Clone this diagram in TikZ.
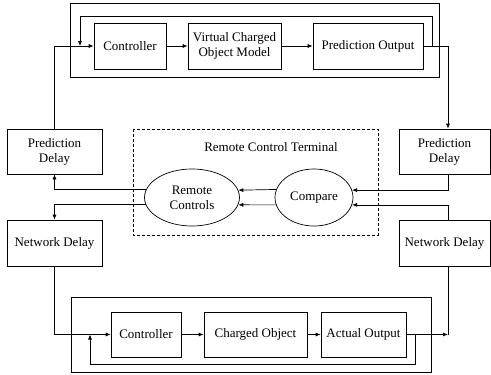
\documentclass[tikz,border=0pt]{standalone}
\usepackage{fontspec}
\setmainfont{Liberation Serif}
\usetikzlibrary{arrows.meta,shapes.geometric}

\begin{document}
\begin{tikzpicture}[x=1pt,y=-1pt,line width=0.7pt,>={Latex[length=5pt,width=4pt]},
  block/.style={draw,inner sep=0pt,align=center,font=\fontsize{13}{15}\selectfont},
  oval/.style={draw,ellipse,inner sep=0pt,align=center,font=\fontsize{13}{15}\selectfont}]
\useasboundingbox (0,0) rectangle (491,375);
% frames
\draw (70,3) rectangle (439,77);
\draw (71,297) rectangle (431,372);
\draw[densely dashed,line width=0.4pt] (133,129) rectangle (378,235);
% prediction loop
\node[block,minimum width=72pt,minimum height=46pt] (ctrlA) at (130,46) {Controller};
\node[block,minimum width=93pt,minimum height=46pt] (vcom) at (234.5,46) {Virtual Charged\\Object Model};
\node[block,minimum width=110pt,minimum height=46pt] (pout) at (368,46) {Prediction Output};
% delays
\node[block,minimum width=95pt,minimum height=45pt] (pdL) at (54.5,151.5) {Prediction\\Delay};
\node[block,minimum width=95pt,minimum height=46pt] (ndL) at (54.5,243) {Network Delay};
\node[block,minimum width=91pt,minimum height=45pt] (pdR) at (444.5,151.5) {Prediction\\Delay};
\node[block,minimum width=91pt,minimum height=46pt] (ndR) at (444.5,243) {Network Delay};
% terminal
\node[font=\fontsize{13}{15}\selectfont] (title) at (271,147) {Remote Control Terminal};
\node[oval,minimum width=95pt,minimum height=57pt] (rc) at (192,197.5) {Remote\\Controls};
\node[oval,minimum width=78pt,minimum height=57pt] (cmp) at (314,197.5) {Compare};
% actual loop
\node[block,minimum width=70pt,minimum height=45pt] (ctrlB) at (146,334.5) {Controller};
\node[block,minimum width=103pt,minimum height=45pt] (cobj) at (255.5,334.5) {Charged Object};
\node[block,minimum width=85pt,minimum height=45pt] (aout) at (363.5,334.5) {Actual Output};
\coordinate (fbA) at (432,46);
\coordinate (inA) at (80,46);
\coordinate (fbB) at (415,334.5);
\coordinate (inB) at (90,334.5);

\draw[->] (pdL.north) |- (ctrlA.west);
\draw[->] (ctrlA.east) -- (vcom.west);
\draw[->] (vcom.east) -- (pout.west);
\draw[->] (pout.east) -| ([xshift=3.5pt]pdR.north);
\draw[->] (fbA) -- ++(0,-30) -| (inA);

\draw[->] ([xshift=3.5pt]pdR.south) |- (cmp.11.3);
\draw[->] ([xshift=3.5pt]ndR.north) |- (cmp.-11.3);
\draw[->] (cmp.168.7) -- (rc.9.3);
\draw[->] (cmp.191.3) -- (rc.-9.3);
\draw[->] (rc.170.7) -| (pdL.south);
\draw[->] (rc.189.3) -| (ndL.north);

\draw[->] (ndL.south) |- (ctrlB.west);
\draw[->] (ctrlB.east) -- (cobj.west);
\draw[->] (cobj.east) -- (aout.west);
\draw[->] (aout.east) -- ([xshift=3.5pt]ndR.south |- aout.east);
\draw ([xshift=3.5pt]ndR.south) -- ([xshift=3.5pt]ndR.south |- aout.east);
\draw[->] (fbB) -- ++(0,29.5) -| (inB);
\end{tikzpicture}
\end{document}
